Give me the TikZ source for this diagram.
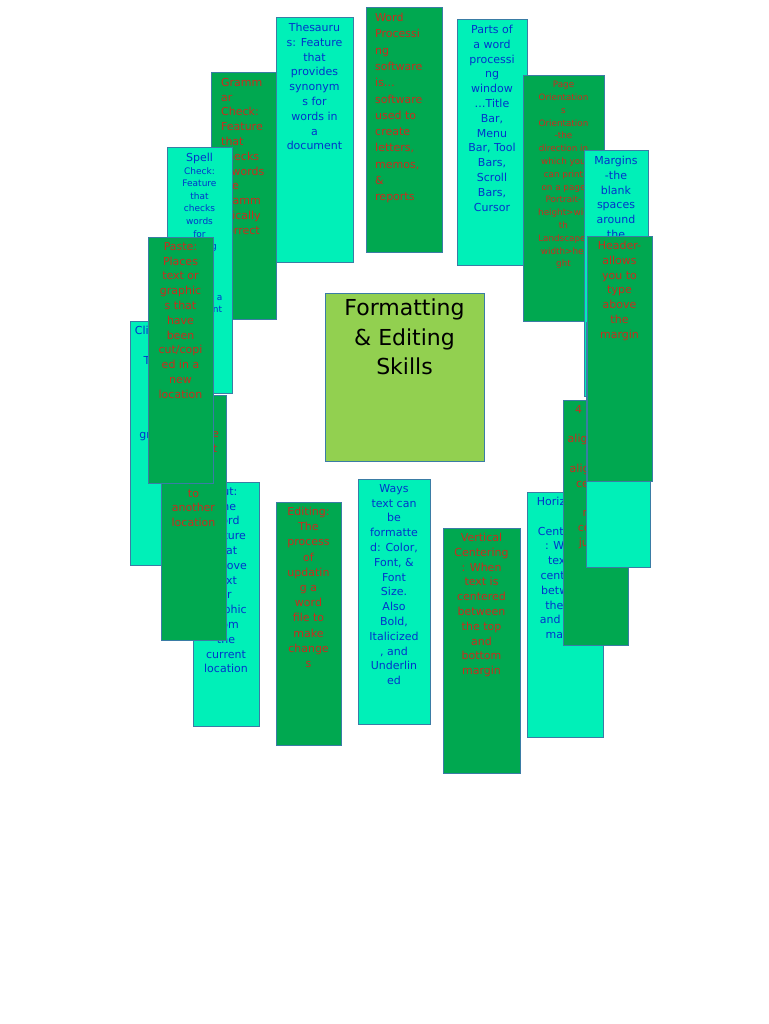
\documentclass[tikz,border=0pt]{standalone}
\usepackage{fontspec}
\setmainfont{DejaVu Sans}
\definecolor{lightcard}{RGB}{0,240,184}
\definecolor{darkcard}{RGB}{0,168,80}
\definecolor{hubgreen}{RGB}{146,208,80}
\definecolor{cardedge}{RGB}{58,124,165}
\definecolor{bluetext}{RGB}{0,51,204}
\definecolor{redtext}{RGB}{200,45,30}
\tikzset{
  card/.style={draw=cardedge, line width=1pt, rectangle, anchor=north west, inner sep=0pt, outer sep=0pt},
  lcard/.style={card, fill=lightcard},
  dcard/.style={card, fill=darkcard},
  btext/.style={text=bluetext, align=center, anchor=north, inner sep=0pt, font=\fontsize{11}{14.8}\selectfont},
  rtext/.style={text=redtext, align=center, anchor=north, inner sep=0pt, font=\fontsize{11}{14.8}\selectfont},
}
\begin{document}
\begin{tikzpicture}[x=1pt,y=-1pt]
\useasboundingbox[fill=white] (0,0) rectangle (768,1024);

% left side
\node[lcard, minimum width=66, minimum height=244] (clip) at (130,321) {};
\node[btext] at ([yshift=-5]clip.north) {Clipboard:\\ \\To hold\\your\\text\\and\\ \\graphics\\that\\are\\cut};
\node[lcard, minimum width=66, minimum height=244] (cut) at (193,482) {};
\node[btext] at ([yshift=-5]cut.north) {Cut:\\The\\word\\feature\\that\\remove\\text\\or\\graphic\\from\\the\\current\\location};
\node[dcard, minimum width=65, minimum height=245] (copy) at (161,395) {};
\node[rtext] at ([yshift=-5]copy.north) {Copy:\\To\\duplicate\\text that\\can be\\copied\\to\\another\\location};
\node[dcard, minimum width=65, minimum height=246] (grammar) at (211,73) {};
\node[rtext, anchor=north west, align=left] at ([xshift=10,yshift=-5]grammar.north west) {Gramm\\ar\\Check:\\Feature\\that\\checks\\if words\\are\\gramm\\atically\\correct};
\node[lcard, minimum width=65, minimum height=245] (spell) at (167,148) {};
\node[btext, font=\fontsize{9}{12.6}\selectfont] at ([yshift=-5]spell.north) {{\fontsize{11}{12.6}\selectfont Spell}\\Check:\\Feature\\that\\checks\\words\\for\\spelling\\errors,\\or\\typing\\errors in a\\document};
\node[dcard, minimum width=65, minimum height=246] (paste) at (148,237) {};
\node[rtext] at ([yshift=-5]paste.north) {Paste:\\Places\\text or\\graphic\\s that\\have\\been\\cut/copi\\ed in a\\new\\location};

% top
\node[lcard, minimum width=77, minimum height=244] (thesaurus) at (276,18) {};
\node[btext] at ([yshift=-5]thesaurus.north) {Thesauru\\s: Feature\\that\\provides\\synonym\\s for\\words in\\a\\document};
\node[dcard, minimum width=76, minimum height=244] (wordproc) at (366,8) {};
\node[rtext, anchor=north west, align=left, font=\fontsize{11}{16.3}\selectfont] at ([xshift=9,yshift=-5]wordproc.north west) {Word\\Processi\\ng\\software\\is…\\software\\used to\\create\\letters,\\memos,\\\&\\reports};
\node[lcard, minimum width=70, minimum height=245] (parts) at (457,20) {};
\node[btext] at ([yshift=-5]parts.north) {Parts of\\a word\\processi\\ng\\window\\…Title\\Bar,\\Menu\\Bar, Tool\\Bars,\\Scroll\\Bars,\\Cursor};
\node[dcard, minimum width=81, minimum height=245] (orient) at (523,76) {};
\node[rtext, font=\fontsize{8.8}{12.8}\selectfont] at ([yshift=-5]orient.north) {Page\\Orientation\\s\\Orientation\\-the\\direction in\\which you\\can print\\on a page\\Portrait-\\height>wid\\th\\Landscape-\\width>hei\\ght};

% right side
\node[lcard, minimum width=64, minimum height=245] (margins) at (584,151) {};
\node[btext] at ([yshift=-5]margins.north) {Margins\\-the\\blank\\spaces\\around\\the\\page};
\node[lcard, minimum width=76, minimum height=245] (horiz) at (527,492) {};
\node[btext] at ([yshift=-5]horiz.north) {Horizontal\\ \\Centering\\: When\\text is\\centered\\between\\the left\\and right\\margin};
\node[dcard, minimum width=65, minimum height=245] (align) at (563,400) {};
\node[rtext] at ([yshift=-5]align.north) {4 types\\of\\alignment\\ \\align left,\\center,\\\&\\right\\center\\justify};
\node[lcard, minimum width=64, minimum height=245] (footer) at (586,322) {};
\node[dcard, minimum width=65, minimum height=245] (header) at (587,236) {};
\node[rtext] at ([yshift=-5]header.north) {Header-\\allows\\you to\\type\\above\\the\\margin};

% bottom
\node[dcard, minimum width=65, minimum height=243] (editing) at (276,502) {};
\node[rtext, font=\fontsize{11}{15.2}\selectfont] at ([yshift=-5]editing.north) {Editing:\\The\\process\\of\\updatin\\g a\\word\\file to\\make\\change\\s};
\node[lcard, minimum width=72, minimum height=245] (ways) at (358,479) {};
\node[btext] at ([yshift=-5]ways.north) {Ways\\text can\\be\\formatte\\d: Color,\\Font, \&\\Font\\Size.\\Also\\Bold,\\Italicized\\, and\\Underlin\\ed};
\node[dcard, minimum width=77, minimum height=245] (vert) at (443,528) {};
\node[rtext] at ([yshift=-5]vert.north) {Vertical\\Centering\\: When\\text is\\centered\\between\\the top\\and\\bottom\\margin};

% hub
\node[card, fill=hubgreen, minimum width=159, minimum height=168] (hub) at (325,293) {};
\node[align=center, anchor=north, inner sep=0pt, font=\fontsize{22}{29.5}\selectfont] at ([yshift=-6]hub.north) {Formatting\\\& Editing\\Skills};
\end{tikzpicture}
\end{document}
